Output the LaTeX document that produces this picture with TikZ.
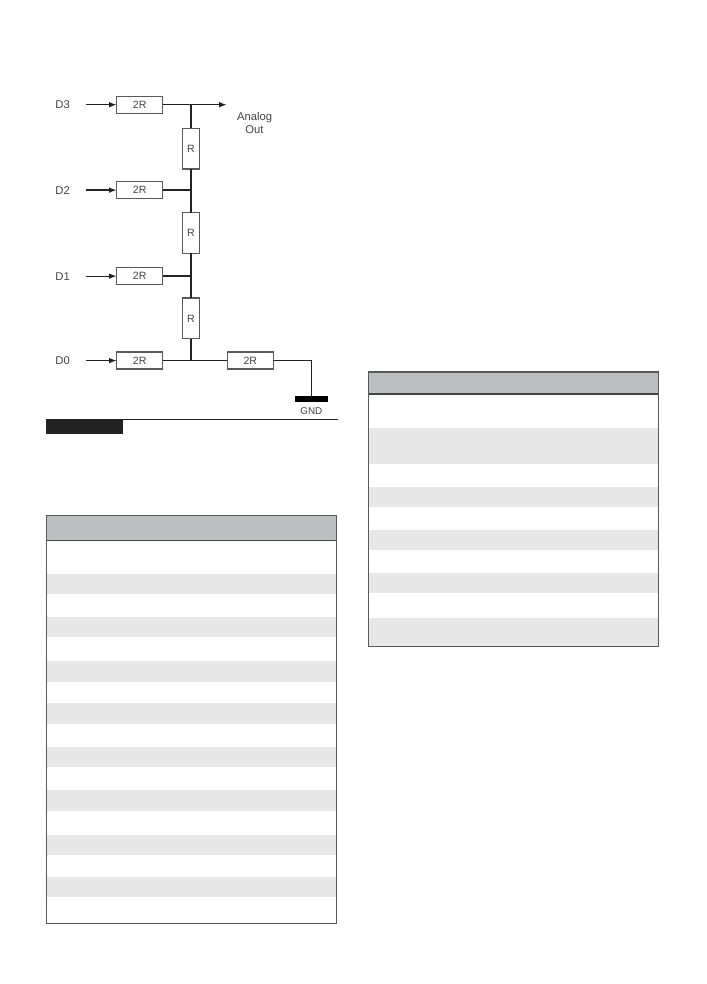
\documentclass[tikz,border=0pt]{standalone}
\usepackage{fontspec}
\setmainfont{Liberation Sans}
\usepackage{xcolor}
\usetikzlibrary{arrows.meta,positioning,calc}
\definecolor{ink}{HTML}{222222}
\definecolor{edgegray}{HTML}{5A5A5A}
\definecolor{headgray}{HTML}{BDBEC0}
\definecolor{stripegray}{HTML}{E6E7E6}
\tikzset{
  page diagram/.style={
    x=0.025cm,
    y=-0.025cm,
    font=\fontsize{8}{9}\selectfont,
    text=ink!85,
    line join=miter
  },
  twobox/.style={
    draw=edgegray,
    line width=0.9pt,
    fill=white,
    minimum width=1.15cm,
    minimum height=0.425cm,
    inner sep=0pt,
    outer sep=0pt,
    font=\fontsize{7.5}{9}\selectfont
  },
  onebox/.style={
    twobox,
    minimum width=0.415cm,
    minimum height=1.02cm
  },
  inlabel/.style={
    minimum width=1.165cm,
    inner sep=0pt,
    outer sep=0pt
  },
  outlabel/.style={align=center, inner sep=0pt, font=\fontsize{8}{9.1}\selectfont},
  gndbar/.style={
    fill=black,
    minimum width=0.82cm,
    minimum height=0.15cm,
    inner sep=0pt,
    outer sep=0pt
  },
  gndlabel/.style={font=\fontsize{7}{8}\selectfont, inner sep=0pt},
  blacktag/.style={
    fill=ink,
    minimum width=1.92cm,
    minimum height=0.375cm,
    inner sep=0pt,
    outer sep=0pt
  },
  wire/.style={draw=ink, line width=1pt},
  inarrow/.style={-{Latex[length=1.9mm,width=1.4mm]}, draw=ink, line width=0.9pt},
  headfill/.style={fill=headgray},
  stripefill/.style={fill=stripegray},
  tableframe/.style={draw=edgegray, line width=1pt},
  headrule/.style={draw=ink!85, line width=1pt},
  thinrule/.style={draw=ink, line width=0.7pt}
}
\begin{document}
\begin{tikzpicture}[page diagram]
\useasboundingbox (0,0) rectangle (706,984);

% ladder
\node[twobox] (in3) at (139.7,104.7) {2R};
\node[twobox, below=1.71cm of in3] (in2) {2R};
\node[twobox, below=1.725cm of in2] (in1) {2R};
\node[twobox, below=1.685cm of in1] (in0) {2R};
\node[onebox, below right=0.375cm and 0.5cm of in3] (rone) {R};
\node[onebox, below=1.09cm of rone] (rtwo) {R};
\node[onebox, below=1.115cm of rtwo] (rthree) {R};
\node[twobox, right=1.615cm of in0] (rend) {2R};
\node[inlabel, left=0.77cm of in3] (dthree) {D3};
\node[inlabel, left=0.77cm of in2] (dtwo) {D2};
\node[inlabel, left=0.77cm of in1] (done) {D1};
\node[inlabel, left=0.77cm of in0] (dzero) {D0};
\coordinate[right=1.6cm of in3.east] (outtip);
\node[outlabel, below right=0.18cm and 0.25cm of outtip] (analog) {Analog\\Out};
\node[gndbar, below right=0.67cm and 0.54cm of rend] (gnd) {};
\node[gndlabel, below=0.13cm of gnd] (gndtext) {GND};

\draw[inarrow] (dthree) -- (in3);
\draw[inarrow] (dtwo) -- (in2);
\draw[inarrow] (done) -- (in1);
\draw[inarrow] (dzero) -- (in0);
\draw[inarrow] (in3) -- (outtip);
\draw[wire] (rone.north) -- (in3.east -| rone.north);
\draw[wire] (in2.east) -- (in2.east -| rone.south);
\draw[wire] (in1.east) -- (in1.east -| rone.south);
\draw[wire] (rone) -- (rtwo);
\draw[wire] (rtwo) -- (rthree);
\draw[wire] (rthree.south) -- (in0.east -| rthree.south);
\draw[wire] (in0) -- (rend);
\draw[wire] (rend.east) -| (gnd.north);

% caption tag
\node[blacktag, anchor=north west] (tag) at (46,419) {};
\coordinate (tagend) at (337.7,419);
\draw[thinrule] (tag.north west) -- (tagend);

% left table
\fill[headfill] (46.7,515.7) rectangle (336.5,540.7);
\fill[stripefill] (46.7,574) rectangle (336.5,594);
\fill[stripefill] (46.7,616.7) rectangle (336.5,636.7);
\fill[stripefill] (46.7,661) rectangle (336.5,681.7);
\fill[stripefill] (46.7,703.3) rectangle (336.5,723.7);
\fill[stripefill] (46.7,747) rectangle (336.5,767.3);
\fill[stripefill] (46.7,790) rectangle (336.5,810.7);
\fill[stripefill] (46.7,835) rectangle (336.5,855);
\fill[stripefill] (46.7,877) rectangle (336.5,897.3);
\draw[headrule] (46.7,540.7) -- (336.5,540.7);
\draw[tableframe] (46.7,515.7) rectangle (336.5,923.7);

% right table
\fill[headfill] (368.7,372) rectangle (658.7,394);
\fill[stripefill] (368.7,428.3) rectangle (658.7,464);
\fill[stripefill] (368.7,486.7) rectangle (658.7,506.7);
\fill[stripefill] (368.7,530) rectangle (658.7,550);
\fill[stripefill] (368.7,573.3) rectangle (658.7,593.3);
\fill[stripefill] (368.7,618) rectangle (658.7,646.7);
\draw[headrule] (368.7,394) -- (658.7,394);
\draw[tableframe] (368.7,372) rectangle (658.7,646.7);
\end{tikzpicture}
\end{document}
